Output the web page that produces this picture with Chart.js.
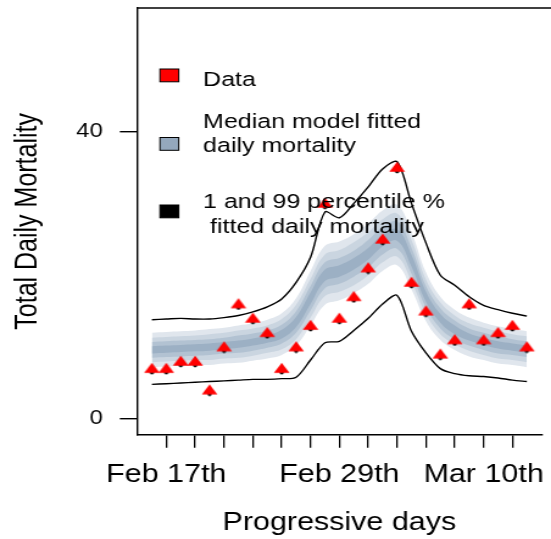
<!DOCTYPE html>
<html lang="en">
<head>
<meta charset="UTF-8" />
<title>Total Daily Mortality</title>
<script src="https://cdn.jsdelivr.net/npm/chart.js"></script>
<style>
  html, body { margin: 0; padding: 0; background: #fff; overflow: hidden; }
  canvas { display: block; }
</style>
</head>
<body>
<!-- drawn narrow, then stretched sideways like the original figure -->
<canvas id="chart" width="452" height="539" style="width:551px;height:539px"></canvas>
<script>
// day 0 = Feb 16th
const days = [0,1,2,3,4,5,6,7,8,9,10,11,12,13,14,15,16,17,18,19,20,21,22,23,24,25,26];
const observed = [7,7,8,8,4,10,16,14,12,7,10,13,30,14,17,21,25,35,19,15,9,11,16,11,12,13,10];
const median = [9.6,9.7,9.8,9.9,10.0,10.2,10.4,10.7,11.1,11.8,13.5,16.8,20.0,20.6,21.6,23.0,24.8,25.6,22.0,17.0,14.0,12.4,11.4,10.8,10.3,10.0,9.7];
// half widths of the shaded credible bands, outer to inner
const spreadOuter = [2.4,2.4,2.4,2.4,2.5,2.5,2.6,2.6,2.7,2.9,3.3,3.8,4.1,4.1,4.1,4.2,4.2,4.2,4.0,3.4,3.0,2.8,2.7,2.6,2.6,2.5,2.5];
const spreadMid = [1.7,1.7,1.7,1.7,1.8,1.8,1.9,1.9,1.9,2.1,2.4,2.7,2.9,2.9,3.0,3.0,3.0,3.0,2.9,2.4,2.2,2.0,1.9,1.9,1.9,1.8,1.8];
const spreadInner = [1.1,1.1,1.1,1.1,1.1,1.1,1.2,1.2,1.2,1.3,1.5,1.7,1.8,1.8,1.8,1.9,1.9,1.9,1.8,1.5,1.4,1.3,1.2,1.2,1.2,1.1,1.1];
const spreadCore = [0.5,0.5,0.5,0.5,0.5,0.5,0.5,0.5,0.5,0.6,0.7,0.8,0.8,0.8,0.8,0.8,0.8,0.8,0.8,0.7,0.6,0.6,0.5,0.5,0.5,0.5,0.5];
const upper99 = [13.8,13.9,14.0,13.9,13.9,14.1,14.4,14.9,15.6,16.7,19.0,22.5,28.8,28.0,30.0,32.3,34.8,35.8,30.0,24.5,20.0,18.6,17.0,15.8,15.2,14.7,14.3];
const lower01 = [4.8,4.9,5.0,5.1,5.2,5.3,5.4,5.5,5.5,5.6,5.8,8.2,10.6,10.8,12.3,14.0,16.0,17.2,12.2,9.2,7.0,6.3,6.0,5.9,5.7,5.4,5.2];

const xTickDays = [1,3,5,7,9,11,13,15,17,19,21,23,25];
const xLabelDays = [1,13,23];
const xLabels = ["Feb 17th", "Feb 29th", "Mar 10th"];
const yTicks = [0, 40];
const legendText = [["Data"], ["Median model fitted", "daily mortality"], ["1 and 99 percentile %", " fitted daily mortality"]];

const FONT = "'Liberation Sans', Arial, sans-serif";

function pts(arr) {
  return days.map((d, i) => ({ x: d, y: arr[i] }));
}
function band(spread, sign) {
  return days.map((d, i) => ({ x: d, y: median[i] + sign * spread[i] }));
}

function bandPair(spread, color) {
  return [
    { data: band(spread, 1), fill: "+1", backgroundColor: color, borderWidth: 0, pointRadius: 0, tension: 0.4 },
    { data: band(spread, -1), fill: false, borderWidth: 0, pointRadius: 0, tension: 0.4 },
  ];
}

// red filled triangle with the dark dot peeking out under its base
function triangleMarker() {
  const c = document.createElement("canvas");
  c.width = 14;
  c.height = 13;
  const g = c.getContext("2d");
  g.fillStyle = "#000";
  g.beginPath();
  g.arc(7, 10.6, 1.8, 0, Math.PI * 2);
  g.fill();
  g.fillStyle = "#ff0000";
  g.beginPath();
  g.moveTo(7, 0.8);
  g.lineTo(13.4, 10.8);
  g.lineTo(0.6, 10.8);
  g.closePath();
  g.fill();
  return c;
}

const lineStyle = { borderColor: "#000", borderWidth: 1.4, pointRadius: 0, fill: false, tension: 0.3 };

const datasets = [
  { data: pts(observed), showLine: false, pointStyle: triangleMarker(), pointRadius: 6.5 },
  Object.assign({ data: pts(upper99) }, lineStyle),
  Object.assign({ data: pts(lower01) }, lineStyle),
  ...bandPair(spreadCore, "#9cb0c4"),
  ...bandPair(spreadInner, "#b2c2d2"),
  ...bandPair(spreadMid, "#cad5e0"),
  ...bandPair(spreadOuter, "#e0e6ed"),
];

// no extra room for edge labels: the plot box is placed by hand
function noPad(scale) {
  scale.paddingTop = 0;
  scale.paddingBottom = 0;
  scale.paddingLeft = 0;
  scale.paddingRight = 0;
}

// top frame line and the in-plot legend
const framePlugin = {
  id: "frame",
  afterDraw(chart) {
    const { ctx, chartArea } = chart;
    ctx.save();
    ctx.strokeStyle = "#000";
    ctx.lineWidth = 1.4;
    ctx.beginPath();
    ctx.moveTo(chartArea.left, chartArea.top);
    ctx.lineTo(chart.width, chartArea.top);
    ctx.stroke();

    const boxes = [
      { y: 69, fill: "#ff0000", base: [85.7] },
      { y: 137.5, fill: "#94a8bd", base: [127.5, 151.5] },
      { y: 205, fill: "#000000", base: [208.3, 232.5] },
    ];
    ctx.font = "20.5px " + FONT;
    ctx.textBaseline = "alphabetic";
    ctx.textAlign = "left";
    boxes.forEach((b, i) => {
      ctx.fillStyle = b.fill;
      ctx.fillRect(131.2, b.y, 15.4, 12.8);
      ctx.lineWidth = 1;
      ctx.strokeStyle = "#000";
      ctx.strokeRect(131.2, b.y, 15.4, 12.8);
      ctx.fillStyle = "#000";
      legendText[i].forEach((t, j) => ctx.fillText(t, 166.6, b.base[j]));
    });
    ctx.restore();
  },
};

new Chart(document.getElementById("chart"), {
  type: "line",
  data: { datasets },
  options: {
    responsive: false,
    animation: false,
    devicePixelRatio: 1,
    layout: { padding: { top: 8, left: 0, right: 0, bottom: 0 } },
    plugins: { legend: { display: false }, tooltip: { enabled: false } },
    scales: {
      x: {
        type: "linear",
        min: -1.04,
        max: 27.04,
        afterFit(scale) { scale.height = 104.3; noPad(scale); },
        afterBuildTicks(scale) { scale.ticks = xTickDays.map((v) => ({ value: v })); },
        ticks: {
          autoSkip: false,
          maxRotation: 0,
          padding: 12,
          color: "#000",
          font: { family: FONT, size: 25 },
          callback: (v) => {
            const k = xLabelDays.indexOf(v);
            return k >= 0 ? xLabels[k] : "";
          },
        },
        grid: { drawOnChartArea: false, drawTicks: true, tickLength: 13, color: "#000", lineWidth: 1.3 },
        border: { display: true, color: "#000", width: 1.4 },
        title: { display: true, text: "Progressive days", color: "#000", font: { family: FONT, size: 25 }, padding: { top: 0, bottom: 1 } },
      },
      y: {
        min: -2.2,
        max: 57.2,
        afterFit(scale) { scale.width = 112.3; noPad(scale); },
        afterBuildTicks(scale) { scale.ticks = yTicks.map((v) => ({ value: v })); },
        ticks: { padding: 14, color: "#000", font: { family: FONT, size: 19.5 } },
        grid: { drawOnChartArea: false, drawTicks: true, tickLength: 14, color: "#000", lineWidth: 1.4 },
        border: { display: true, color: "#000", width: 1.4 },
        title: { display: true, text: "Total Daily Mortality", color: "#000", font: { family: FONT, size: 25 }, padding: { top: 8, bottom: 0 } },
      },
    },
  },
  plugins: [framePlugin],
});
</script>
</body>
</html>
